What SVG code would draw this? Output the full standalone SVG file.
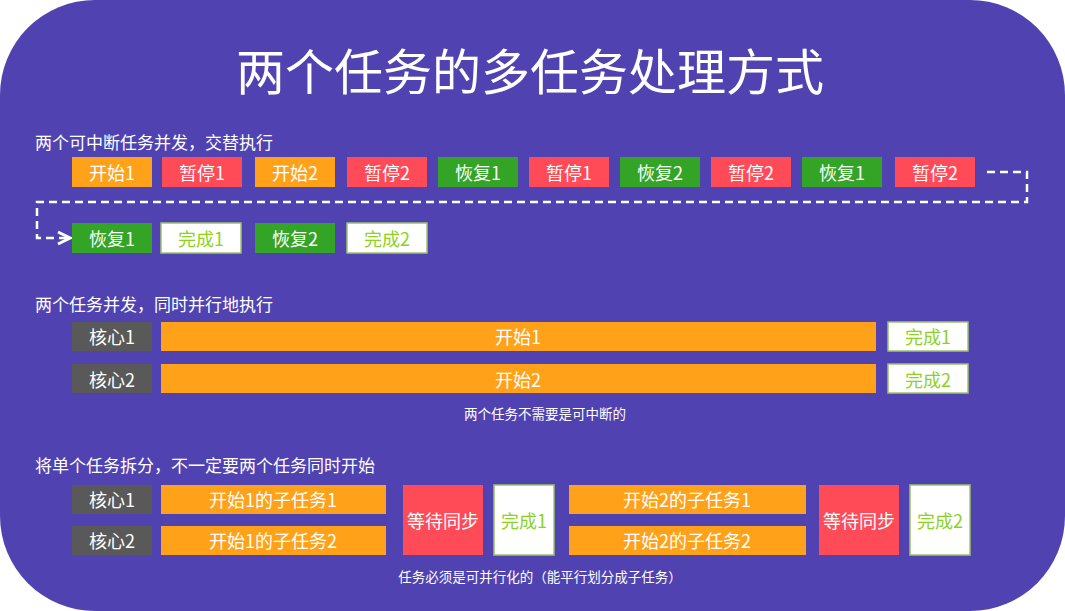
<svg xmlns="http://www.w3.org/2000/svg" width="1065" height="611" viewBox="0 0 1065 611">
<defs>
<style>
text{font-family:"Microsoft YaHei","Noto Sans CJK SC",sans-serif;dominant-baseline:central;text-anchor:middle}
.b text{font-size:18px;fill:#fff}
.o{fill:#FFA21A}.r{fill:#FF4A57}.g{fill:#33A426}.k{fill:#595959}.w{fill:#fff;stroke:#9CC36A;stroke-width:1.5}
.wt{fill:#8CD21E!important}
.h{font-size:17px;fill:#fff;text-anchor:start}
.n{font-size:13.5px;fill:#fff}
</style>
<marker id="ar" markerWidth="16" markerHeight="16" refX="14" refY="8" orient="auto" markerUnits="userSpaceOnUse"><path d="M2,2 L14,8 L2,14" fill="none" stroke="#fff" stroke-width="3"/></marker>
</defs>
<rect width="1065" height="611" fill="#fff"/>
<rect width="1065" height="611" rx="95" fill="#5043B1"/>
<text x="530" y="68" style="font-size:49px;fill:#fff">两个任务的多任务处理方式</text>
<text class="h" x="35" y="141">两个可中断任务并发，交替执行</text>
<text class="h" x="35" y="303">两个任务并发，同时并行地执行</text>
<text class="h" x="35" y="464">将单个任务拆分，不一定要两个任务同时开始</text>
<text class="n" x="545" y="413">两个任务不需要是可中断的</text>
<text class="n" x="540" y="576">任务必须是可并行化的（能平行划分成子任务）</text>
<g id="connectors"><path d="M987,172 H1027 V202 H37 V238 H70" fill="none" stroke="#fff" stroke-width="2.5" stroke-dasharray="8,5" marker-end="url(#ar)"/></g>
<g class="b">
<g id="r1a"><rect class="o" x="72" y="157" width="80" height="30"/><text x="112" y="172">开始1</text></g>
<g id="r1b"><rect class="r" x="162" y="157" width="80" height="30"/><text x="202" y="172">暂停1</text></g>
<g id="r1c"><rect class="o" x="255" y="157" width="80" height="30"/><text x="295" y="172">开始2</text></g>
<g id="r1d"><rect class="r" x="347" y="157" width="80" height="30"/><text x="387" y="172">暂停2</text></g>
<g id="r1e"><rect class="g" x="438" y="157" width="80" height="30"/><text x="478" y="172">恢复1</text></g>
<g id="r1f"><rect class="r" x="529" y="157" width="80" height="30"/><text x="569" y="172">暂停1</text></g>
<g id="r1g"><rect class="g" x="620" y="157" width="80" height="30"/><text x="660" y="172">恢复2</text></g>
<g id="r1h"><rect class="r" x="711" y="157" width="80" height="30"/><text x="751" y="172">暂停2</text></g>
<g id="r1i"><rect class="g" x="802" y="157" width="80" height="30"/><text x="842" y="172">恢复1</text></g>
<g id="r1j"><rect class="r" x="895" y="157" width="80" height="30"/><text x="935" y="172">暂停2</text></g>
<g id="r2a"><rect class="g" x="72" y="223" width="80" height="30"/><text x="112" y="238">恢复1</text></g>
<g id="r2b"><rect class="w" x="161" y="223" width="80" height="30"/><text class="wt" x="201" y="238">完成1</text></g>
<g id="r2c"><rect class="g" x="255" y="223" width="80" height="30"/><text x="295" y="238">恢复2</text></g>
<g id="r2d"><rect class="w" x="347" y="223" width="80" height="30"/><text class="wt" x="387" y="238">完成2</text></g>
<g id="p1"><rect class="k" x="72" y="322" width="80" height="29"/><text x="112" y="336">核心1</text></g>
<g id="p2"><rect class="o" x="161" y="322" width="715" height="29"/><text x="518" y="336">开始1</text></g>
<g id="p3"><rect class="w" x="888" y="322" width="80" height="29"/><text class="wt" x="928" y="336">完成1</text></g>
<g id="p4"><rect class="k" x="72" y="364" width="80" height="29"/><text x="112" y="379">核心2</text></g>
<g id="p5"><rect class="o" x="161" y="364" width="715" height="29"/><text x="518" y="379">开始2</text></g>
<g id="p6"><rect class="w" x="888" y="364" width="80" height="29"/><text class="wt" x="928" y="379">完成2</text></g>
<g id="s1"><rect class="k" x="72" y="485" width="80" height="29"/><text x="112" y="499">核心1</text></g>
<g id="s2"><rect class="o" x="161" y="485" width="225" height="29"/><text x="273" y="499">开始1的子任务1</text></g>
<g id="s3"><rect class="k" x="72" y="526" width="80" height="29"/><text x="112" y="540">核心2</text></g>
<g id="s4"><rect class="o" x="161" y="526" width="225" height="29"/><text x="273" y="540">开始1的子任务2</text></g>
<g id="s5"><rect class="r" x="403" y="485" width="80" height="70"/><text x="443" y="520">等待同步</text></g>
<g id="s6"><rect class="w" x="494" y="485" width="60" height="70"/><text class="wt" x="524" y="520">完成1</text></g>
<g id="s7"><rect class="o" x="569" y="485" width="237" height="29"/><text x="687" y="499">开始2的子任务1</text></g>
<g id="s8"><rect class="o" x="569" y="526" width="237" height="29"/><text x="687" y="540">开始2的子任务2</text></g>
<g id="s9"><rect class="r" x="819" y="485" width="80" height="70"/><text x="859" y="520">等待同步</text></g>
<g id="s10"><rect class="w" x="910" y="485" width="60" height="70"/><text class="wt" x="940" y="520">完成2</text></g>
</g>
</svg>
